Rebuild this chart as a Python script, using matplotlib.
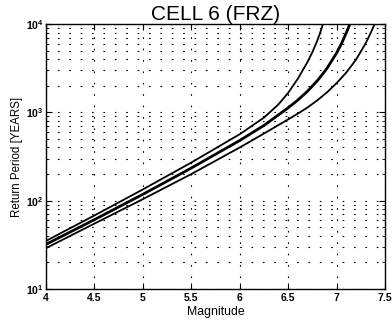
import matplotlib
matplotlib.use("Agg")
import matplotlib.pyplot as plt
from matplotlib.ticker import FixedLocator, FixedFormatter, LogLocator, NullFormatter

plt.rcParams['font.family'] = ['Liberation Sans', 'DejaVu Sans']
plt.rcParams['mathtext.fontset'] = 'custom'
plt.rcParams['mathtext.rm'] = 'Liberation Sans:bold'
plt.rcParams['mathtext.bf'] = 'Liberation Sans:bold'
plt.rcParams['lines.scale_dashes'] = False

title = "CELL 6 (FRZ)"
xlabel = "Magnitude"
ylabel = "Return Period [YEARS]"

# Upper curve (highest return period)
mag_upper = [4.0, 4.5, 5.0, 5.5, 6.0, 6.25, 6.4, 6.5, 6.6, 6.7, 6.75, 6.8, 6.83, 6.86]
rp_upper = [35, 68, 134, 270, 565, 871, 1230, 1660, 2400, 3715, 4790, 6460, 7940, 10000]

# Middle curve (thick)
mag_mid = [4.0, 4.5, 5.0, 5.5, 6.0, 6.25, 6.5, 6.6, 6.7, 6.8, 6.9, 7.0, 7.05, 7.1, 7.138]
rp_mid = [32, 61, 118, 234, 480, 710, 1125, 1377, 1734, 2270, 3133, 4690, 5970, 7925, 10000]

# Lower curve
mag_lower = [4.0, 4.5, 5.0, 5.5, 6.0, 6.25, 6.5, 6.6, 6.7, 6.8, 6.9, 7.0, 7.1, 7.2, 7.3, 7.35, 7.393]
rp_lower = [29, 55, 104, 200, 400, 575, 832, 966, 1135, 1365, 1680, 2140, 2820, 3940, 6030, 7820, 10000]

xticks = [4, 4.5, 5, 5.5, 6, 6.5, 7, 7.5]
xtick_labels = ["4", "4.5", "5", "5.5", "6", "6.5", "7", "7.5"]
yticks = [10, 100, 1000, 10000]
ytick_labels = ["$10^{1}$", "$10^{2}$", "$10^{3}$", "$10^{4}$"]

fig = plt.figure(figsize=(3.92, 3.24), dpi=100)
ax = fig.add_axes([46/392, 1-289/324, (385-46)/392, (289-24)/324])

ax.set_yscale('log')
ax.set_xlim(4, 7.5)
ax.set_ylim(10, 10000)

ax.plot(mag_upper, rp_upper, color='black', lw=1.3, zorder=3)
ax.plot(mag_mid, rp_mid, color='black', lw=2.0, zorder=3)
ax.plot(mag_lower, rp_lower, color='black', lw=1.3, zorder=3)

ax.xaxis.set_major_locator(FixedLocator(xticks))
ax.xaxis.set_major_formatter(FixedFormatter(xtick_labels))
ax.yaxis.set_major_locator(FixedLocator(yticks))
ax.yaxis.set_major_formatter(FixedFormatter(ytick_labels))
ax.yaxis.set_minor_locator(LogLocator(base=10, subs=range(2, 10)))
ax.yaxis.set_minor_formatter(NullFormatter())

dots = (0, (1.2, 7.0))
ax.grid(True, which='major', axis='both', color='black', lw=0.8, linestyle=dots)
ax.grid(True, which='minor', axis='y', color='black', lw=0.8, linestyle=dots)

ax.tick_params(axis='both', which='both', direction='in', top=True, right=True)
ax.tick_params(which='major', length=4, width=0.8)
ax.tick_params(which='minor', length=2, width=0.6)
ax.tick_params(axis='x', pad=3)
ax.tick_params(axis='y', pad=2)
for lbl in ax.get_xticklabels():
    lbl.set_fontsize(7.5)
    lbl.set_fontweight('bold')
for lbl in ax.get_yticklabels():
    lbl.set_fontsize(7.5)

for s in ax.spines.values():
    s.set_linewidth(1.0)
    s.set_color('black')

ax.set_title(title, fontsize=15, pad=0.5)
ax.set_xlabel(xlabel, fontsize=8.8, labelpad=2)
ax.set_ylabel(ylabel, fontsize=8.3, labelpad=2)

fig.savefig("out.png", dpi=100)
